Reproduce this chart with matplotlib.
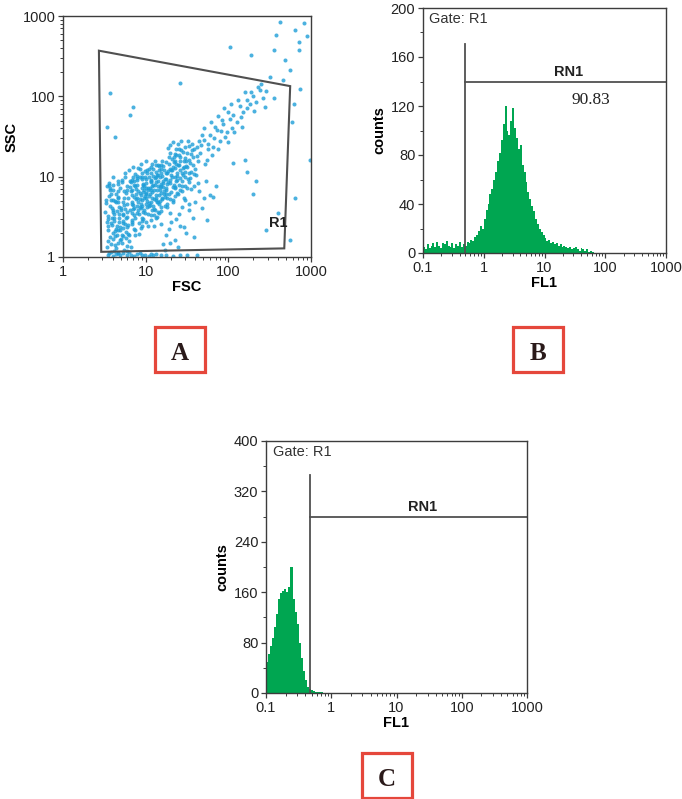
import numpy as np
import matplotlib
matplotlib.use('Agg')
import matplotlib.pyplot as plt
from matplotlib.patches import Polygon, Rectangle
from matplotlib.ticker import FixedLocator, NullFormatter, LogLocator

plt.rcParams['font.family'] = ['Liberation Sans', 'DejaVu Sans']

# ---------------- Panel A data (log10 FSC, log10 SSC) ----------------
scatter_log_fsc = [
    0.53,0.57,0.62,0.66,0.71,0.75,0.80,0.55,0.60,0.68,
    0.73,0.78,0.83,0.52,0.58,0.64,0.69,0.74,0.81,0.56,
    0.61,0.66,0.72,0.77,0.84,0.54,0.59,0.63,0.70,0.76,
    0.82,0.57,0.65,0.79,0.53,0.60,0.67,0.74,0.80,0.86,
    0.51,0.56,0.62,0.68,0.75,0.83,0.58,0.64,0.71,0.78,
    0.55,0.63,0.69,0.72,0.77,0.85,0.60,0.66,0.73,0.81,
    0.54,0.59,0.67,0.70,0.76,0.82,0.57,0.62,0.74,0.79,
    0.52,0.58,0.64,0.69,0.73,0.78,0.84,0.61,0.66,0.87,
    0.56,0.60,0.65,0.71,0.75,0.80,0.85,0.53,0.63,0.68,
    0.86,0.90,0.94,0.98,1.02,1.06,1.10,1.14,1.18,1.22,
    0.88,0.92,0.96,1.00,1.04,1.08,1.12,1.16,1.20,1.24,
    0.84,0.89,0.93,0.97,1.01,1.05,1.09,1.13,1.17,1.21,
    0.87,0.91,0.95,0.99,1.03,1.07,1.11,1.15,1.19,1.23,
    0.85,0.90,0.94,0.99,1.03,1.08,1.12,1.16,1.21,0.92,
    0.89,0.93,0.97,1.01,1.05,1.10,1.14,1.18,0.86,0.96,
    1.00,1.04,1.09,1.13,1.17,1.22,0.88,0.95,1.02,1.07,
    1.11,1.15,1.20,0.84,0.91,0.98,1.06,1.12,1.19,0.93,
    0.99,1.04,1.10,1.16,0.87,0.94,1.01,1.08,1.14,1.24,
    0.90,0.97,1.03,1.09,1.15,1.21,0.86,0.93,1.00,1.06,
    1.13,1.18,0.89,0.95,1.02,1.07,1.11,1.17,1.23,0.98,
    0.83,0.91,0.96,1.04,1.10,1.19,0.94,1.01,1.08,1.15,
    1.26,1.30,1.34,1.38,1.42,1.46,1.50,1.54,1.58,1.62,
    1.28,1.32,1.36,1.40,1.44,1.48,1.52,1.56,1.60,1.64,
    1.25,1.29,1.33,1.37,1.41,1.45,1.49,1.53,1.57,1.61,
    1.27,1.31,1.35,1.39,1.43,1.47,1.51,1.55,1.59,1.63,
    1.26,1.32,1.37,1.42,1.47,1.52,1.57,1.29,1.35,1.40,
    1.45,1.50,1.55,1.28,1.34,1.39,1.44,1.49,1.54,1.30,
    1.36,1.41,1.46,1.51,1.56,1.62,1.33,1.38,1.43,1.48,
    1.53,1.58,1.25,1.31,1.37,1.44,1.50,1.27,1.34,1.40,
    1.18,1.24,1.30,1.37,1.44,1.52,1.60,1.70,1.21,1.28,
    1.35,1.42,1.49,1.57,1.65,1.78,1.16,1.26,1.33,1.40,
    1.47,1.55,1.63,1.73,1.23,1.31,1.39,1.46,1.58,1.68,
    1.20,1.29,1.38,1.52,1.85,
    1.66,1.70,1.74,1.78,1.82,1.86,1.90,1.94,1.98,2.02,
    1.68,1.72,1.76,1.80,1.84,1.88,1.92,1.96,2.00,2.04,
    2.06,2.10,2.14,2.18,2.22,2.26,2.30,2.34,2.38,2.42,
    1.67,1.75,1.83,1.91,1.99,2.07,2.15,2.23,2.31,2.12,
    2.20,2.28,2.36,2.44,1.71,1.79,1.87,1.95,2.03,2.17,
    2.62,2.81,2.92,2.85,2.86,2.69,2.75,2.58,2.55,2.02,
    2.28,2.51,2.45,2.39,2.87,2.79,2.77,2.99,2.81,2.75,
    2.34,2.20,2.22,2.30,2.06,1.82,1.74,0.57,0.63,0.85,
    0.81,1.42,0.53,2.46,2.60,2.95,2.66,2.55,
    0.55,0.60,0.64,0.69,0.73,0.77,0.82,0.86,0.90,0.95,
    0.99,1.04,1.09,1.13,1.18,1.25,1.33,1.41,1.50,1.62,
    0.58,0.67,0.80,0.93,1.07,
    0.62,0.70,0.78,0.88,0.96,1.05,1.14,1.23,1.32,1.41,
    0.65,0.74,0.83,0.92,1.01,1.10,1.19,1.28,1.37,1.46,
    0.59,0.68,0.77,0.86,0.95,1.04,1.13,1.22,1.31,1.40,
    0.57,0.66,0.75,0.84,0.93,1.02,1.11,1.20,1.29,1.38,
    0.63,0.72,0.81,0.90,0.99,1.08,1.17,1.26,1.35,1.44,
    0.54,0.61,0.71,0.79,0.87,0.97,1.06,1.15,1.24,1.33,
    0.58,0.67,0.76,0.85,0.94,1.03,1.12,1.21,1.30,1.39,
    0.60,0.69,0.78,0.87,0.97,1.06,1.15,1.24,1.33,1.47,
    0.64,0.73,0.82,0.91,1.00,1.09,1.18,1.27,1.36,1.45,
    0.56,0.66,0.76,0.86,0.96,1.06,1.16,1.26,1.36,0.98,
]
scatter_log_ssc = [
    0.12,0.25,0.08,0.33,0.18,0.41,0.27,0.47,0.56,0.62,
    0.52,0.66,0.44,0.71,0.79,0.35,0.86,0.74,0.58,0.92,
    0.83,0.95,0.68,0.89,0.77,0.38,0.49,0.15,0.22,0.31,
    0.12,0.63,0.57,0.40,0.88,0.30,0.05,0.09,0.20,0.35,
    0.56,0.05,0.45,0.49,0.60,0.55,0.71,0.78,0.96,0.84,
    0.34,0.26,0.21,0.42,0.14,0.65,1.00,0.69,0.36,0.95,
    0.20,0.40,0.73,0.59,0.48,0.82,0.83,0.53,0.65,0.29,
    0.67,0.16,0.11,0.37,0.26,0.07,0.46,0.90,0.82,0.28,
    0.76,0.59,0.38,0.93,1.04,1.08,0.99,0.44,0.70,0.54,
    0.52,0.74,0.61,0.88,0.70,0.95,0.83,1.02,0.91,1.08,
    0.85,0.42,0.97,0.66,1.10,0.58,1.15,0.77,1.19,0.86,
    0.69,1.01,0.80,0.47,0.92,0.79,0.64,0.93,0.70,1.13,
    0.33,0.58,0.38,0.99,0.54,1.04,0.98,0.56,1.05,0.64,
    1.12,0.90,1.16,0.76,0.83,0.88,0.48,1.08,0.95,0.29,
    0.63,0.72,0.56,1.20,0.65,0.72,0.83,0.62,0.94,1.05,
    0.44,0.99,1.09,0.71,0.99,0.78,0.78,0.86,0.62,0.52,
    0.90,0.88,0.74,0.83,0.82,0.73,0.96,1.06,0.57,0.99,
    1.07,0.76,0.60,1.13,0.48,0.66,0.97,0.81,0.50,0.97,
    0.55,0.91,0.39,1.01,0.68,0.87,0.61,1.10,0.80,0.68,
    0.77,1.10,0.96,0.49,1.04,0.93,1.20,0.84,0.75,0.59,
    0.96,1.11,0.71,0.67,0.39,1.14,0.36,0.73,1.16,0.95,
    1.05,0.92,1.18,1.01,1.24,1.12,1.30,1.17,1.35,1.26,
    0.78,1.22,0.87,1.14,0.95,1.37,1.05,1.41,1.10,1.44,
    1.18,1.30,0.71,1.27,0.83,1.02,1.20,0.93,1.24,1.02,
    0.93,1.08,1.00,0.79,1.33,0.88,0.97,1.28,0.89,1.19,
    0.66,0.99,1.35,1.08,1.23,1.38,1.15,1.39,1.11,0.90,
    1.31,0.86,1.06,1.25,1.25,1.41,1.04,1.13,0.98,1.10,
    0.76,1.19,0.74,1.44,1.33,1.37,1.43,0.96,1.45,1.00,
    1.21,1.03,0.84,0.81,1.16,0.82,1.12,1.36,0.90,1.34,
    0.41,0.28,0.55,0.47,0.62,0.58,0.69,0.74,0.16,0.35,
    0.21,0.39,0.30,0.49,0.82,0.77,0.55,0.62,0.68,0.54,
    0.71,0.85,0.92,0.95,0.09,0.44,0.12,0.37,0.25,0.61,
    0.72,0.18,0.80,0.66,0.88,
    1.30,1.46,1.21,1.52,1.37,1.58,1.44,1.65,1.55,1.72,
    1.52,1.16,1.41,1.27,1.62,1.35,1.70,1.49,1.80,1.61,
    1.77,1.68,1.88,1.81,1.96,1.90,2.00,1.93,2.08,1.98,
    1.40,1.34,1.48,1.57,1.43,1.56,1.74,1.85,1.82,1.95,
    2.05,2.06,2.12,1.87,1.60,1.68,1.76,1.85,1.90,1.62,
    2.93,2.83,2.91,2.68,2.58,2.45,2.33,2.76,2.58,2.62,
    2.51,2.24,2.07,2.15,2.09,1.91,1.68,1.21,0.73,0.21,
    0.94,1.21,1.06,0.79,1.17,0.75,0.46,2.04,1.50,1.87,
    1.77,2.16,1.62,0.34,0.55,2.75,2.20,1.98,
    0.03,0.01,0.04,0.02,0.05,0.02,0.03,0.01,0.04,0.02,
    0.03,0.01,0.02,0.04,0.02,0.03,0.01,0.02,0.03,0.02,
    0.06,0.05,0.06,0.05,0.04,
    0.48,0.61,0.37,0.72,0.45,0.86,0.69,0.97,1.08,0.98,
    0.28,0.82,0.66,0.54,0.78,0.52,0.89,1.16,0.95,1.20,
    0.61,0.43,0.56,0.75,0.99,0.63,1.00,0.82,1.02,1.27,
    0.86,0.75,0.99,0.41,0.62,1.08,0.58,1.01,0.72,1.05,
    0.32,0.45,0.87,0.98,0.55,0.74,0.87,0.91,1.28,0.88,
    0.51,0.71,0.27,0.73,0.88,0.81,0.84,1.14,1.04,0.87,
    0.42,0.91,0.80,0.60,0.77,0.86,0.73,0.92,0.96,1.15,
    0.23,0.33,0.50,1.03,0.90,0.46,1.02,0.79,1.12,1.06,
    0.68,0.53,0.93,0.68,0.86,0.90,0.80,1.07,0.86,1.11,
    0.90,0.17,0.24,0.90,0.64,1.12,0.66,0.74,1.19,0.84,
]
gate_r1_fsc = [2.72, 560, 475, 2.9]
gate_r1_ssc = [370, 134, 1.28, 1.16]

# ---------------- Panel B data (FL1 histogram, 32 bins per decade from 0.1) ----------------
hist_b_counts = [
    5,3,7,4,6,8,5,9,6,4,8,7,10,6,5,8,4,7,6,9,5,7,
    6,9,8,11,10,13,15,
    18,22,20,28,35,
    40,48,52,60,66,75,82,
    92,105,120,100,96,108,118,102,
    94,85,88,72,66,58,50,44,
    38,34,28,24,20,17,15,
    12,10,11,8,9,7,8,6,7,5,6,5,
    4,5,3,4,5,3,2,4,3,2,3,1,2,1,
]
# ---------------- Panel C data ----------------
hist_c_counts = [
    50,62,75,88,105,125,150,158,162,165,160,168,200,150,128,110,
    80,55,35,20,10,6,4,3,2,2,1,1,
]
bins_per_decade = 32
fl1_start = 0.1

xticks_fl1 = [0.1, 1, 10, 100, 1000]
xticklabels_fl1 = ['0.1', '1', '10', '100', '1000']
yticks_b = [0, 40, 80, 120, 160, 200]
yticks_c = [0, 80, 160, 240, 320, 400]
log_ticks_a = [1, 10, 100, 1000]

gate_b = dict(x=0.49, vtop=171, hline=140, label='RN1', pct='90.83')
gate_c = dict(x=0.47, vtop=346, hline=279, label='RN1')

# ---------------- figure ----------------
W, H = 682, 799
fig = plt.figure(figsize=(W / 100, H / 100), dpi=100)
fig.patch.set_facecolor('white')

def ax_px(l, t, r, b):
    return fig.add_axes([l / W, 1 - b / H, (r - l) / W, (b - t) / H])

SPINE = '#3c3c3c'
GATE = '#505050'
GREEN = '#00A651'
BLUE = '#1E9ED8'
FS = 10.5

def style(ax):
    for s in ax.spines.values():
        s.set_color(SPINE)
        s.set_linewidth(1.0)
    ax.tick_params(which='major', length=3.5, width=0.9, color=SPINE,
                   labelsize=FS, pad=2, labelcolor='#222222')
    ax.tick_params(which='minor', length=2.2, width=0.7, color=SPINE)

# Panel A
axA = ax_px(63, 16, 311, 257)
axA.set_xscale('log'); axA.set_yscale('log')
axA.set_xlim(1, 1000); axA.set_ylim(1, 1000)
axA.scatter(10 ** np.array(scatter_log_fsc), 10 ** np.array(scatter_log_ssc),
            s=8.5, c=BLUE, linewidths=0, alpha=0.8, clip_on=True)
axA.add_patch(Polygon(list(zip(gate_r1_fsc, gate_r1_ssc)), closed=True,
                      fill=False, ec=GATE, lw=1.5))
axA.text(400, 2.65, 'R1', fontsize=FS, fontweight='bold', ha='center', va='center', color='#222222')
axA.set_xticks(log_ticks_a)
axA.set_xticklabels([str(t) for t in log_ticks_a])
axA.set_yticks(log_ticks_a)
axA.set_yticklabels([str(t) for t in log_ticks_a])
axA.xaxis.set_minor_locator(LogLocator(base=10, subs=np.arange(2, 10)))
axA.yaxis.set_minor_locator(LogLocator(base=10, subs=np.arange(2, 10)))
axA.xaxis.set_minor_formatter(NullFormatter())
axA.yaxis.set_minor_formatter(NullFormatter())
axA.set_xlabel('FSC', fontsize=FS, fontweight='bold', labelpad=1)
axA.set_ylabel('SSC', fontsize=FS, fontweight='bold', labelpad=3)
style(axA)

def hist_panel(ax, counts, ymax, yticks, gate):
    n = len(counts)
    edges = fl1_start * 10 ** (np.arange(n + 1) / bins_per_decade)
    ax.set_xscale('log')
    ax.stairs(counts, edges, fill=True, color=GREEN, lw=0)
    ax.set_xlim(0.1, 1000)
    ax.set_ylim(0, ymax)
    ax.set_xticks(xticks_fl1)
    ax.set_xticklabels(xticklabels_fl1)
    ax.xaxis.set_minor_locator(LogLocator(base=10, subs=np.arange(2, 10)))
    ax.xaxis.set_minor_formatter(NullFormatter())
    ax.set_yticks(yticks)
    step = yticks[1] - yticks[0]
    ax.yaxis.set_minor_locator(FixedLocator([t + step / 2 for t in yticks[:-1]]))
    ax.plot([gate['x'], gate['x']], [0, gate['vtop']], color=GATE, lw=1.3)
    ax.plot([gate['x'], 1000], [gate['hline'], gate['hline']], color=GATE, lw=1.3, clip_on=False)
    ax.text(25, gate['hline'] + ymax * 0.012, gate['label'], fontsize=FS, fontweight='bold',
            ha='center', va='bottom', color='#222222')
    ax.text(0.025, 0.955, 'Gate: R1', transform=ax.transAxes, fontsize=FS,
            ha='left', va='center', color='#333333')
    ax.set_xlabel('FL1', fontsize=FS, fontweight='bold', labelpad=1)
    ax.set_ylabel('counts', fontsize=FS, fontweight='bold', labelpad=3)
    style(ax)

axB = ax_px(423, 8, 666, 253)
hist_panel(axB, hist_b_counts, 200, yticks_b, gate_b)
axB.text(58, 125, gate_b['pct'], fontsize=12.5, family=['Liberation Serif', 'DejaVu Serif'],
         ha='center', va='center', color='#222222')

axC = ax_px(266, 441, 527, 693)
hist_panel(axC, hist_c_counts, 400, yticks_c, gate_c)

# panel letter boxes
RED = '#E5473B'
for letter, (l, t) in zip(['A', 'B', 'C'], [(155, 327), (513, 327), (362, 753)]):
    fig.add_artist(Rectangle((l / W, 1 - (t + 45) / H), 50 / W, 45 / H,
                             transform=fig.transFigure, fill=False, ec=RED, lw=2.3))
    fig.text((l + 25) / W, 1 - (t + 27) / H, letter, fontsize=18, fontweight='bold',
             family=['Liberation Serif', 'DejaVu Serif'], ha='center', va='center', color='#2a1a1a')

fig.savefig('out.png', dpi=100, facecolor='white')
